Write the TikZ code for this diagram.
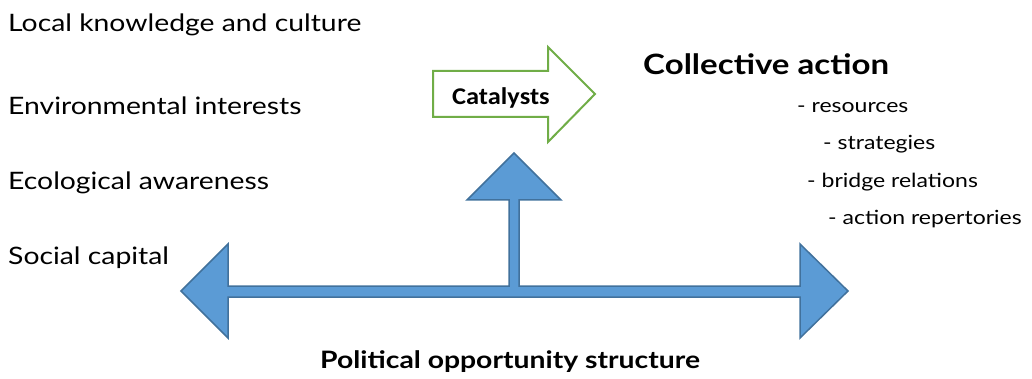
\documentclass[tikz,border=0pt]{standalone}
\usepackage{fontspec}
\setmainfont{Lato}[FakeStretch=1.18]
\newfontfamily\calib{Carlito}[FakeStretch=1.1]
\definecolor{bluefill}{HTML}{5B9BD5}
\definecolor{bluedraw}{HTML}{41719C}
\definecolor{greenline}{HTML}{70AD47}
\begin{document}
\begin{tikzpicture}[x=1pt,y=-1pt,
  lefttext/.style={anchor=base west,inner sep=0pt,font=\fontsize{24}{28}\selectfont},
  itemtext/.style={anchor=base west,inner sep=0pt,font=\fontsize{19.5}{22}\selectfont},
  bigtext/.style={anchor=base west,inner sep=0pt,font=\fontsize{28}{32}\selectfont\bfseries},
  bluearrow/.style={fill=bluefill,draw=bluedraw,line width=1.5pt,line join=miter},
  greenarrow/.style={fill=white,draw=greenline,line width=2pt,line join=miter}]
\useasboundingbox (0,0) rectangle (1032,379);
% blue T-arrow
\draw[bluearrow] (181,291) -- (228,244) -- (228,286) -- (509,286) -- (509,200) -- (467,200)
  -- (514,153) -- (561,200) -- (519,200) -- (519,286) -- (800,286) -- (800,244)
  -- (848,291) -- (800,338) -- (800,297) -- (228,297) -- (228,338) -- cycle;
% green catalyst arrow
\draw[greenarrow] (433,71) -- (548,71) -- (548,47) -- (595,94) -- (548,142) -- (548,117) -- (433,117) -- cycle;
\node[anchor=base west,inner sep=0pt,font=\calib\fontsize{24}{26}\selectfont\bfseries] (cat) at (452,105) {Catalysts};
% left column
\node[lefttext] (local) at (8,32) {Local knowledge and culture};
\node[lefttext] (env) at (8,115) {Environmental interests};
\node[lefttext] (eco) at (8,190) {Ecological awareness};
\node[lefttext] (soc) at (8,264) {Social capital};
% right column
\node[bigtext] (coll) at (643,75) {Collective action};
\node[itemtext] (res) at (797,113) {- resources};
\node[itemtext] (str) at (823,150) {- strategies};
\node[itemtext] (bri) at (807,188) {- bridge relations};
\node[itemtext] (act) at (828,225) {- action repertories};
% bottom
\node[anchor=base west,inner sep=0pt,font=\fontsize{24}{28}\selectfont\bfseries] (pol) at (320,368) {Political opportunity structure};
\end{tikzpicture}
\end{document}
